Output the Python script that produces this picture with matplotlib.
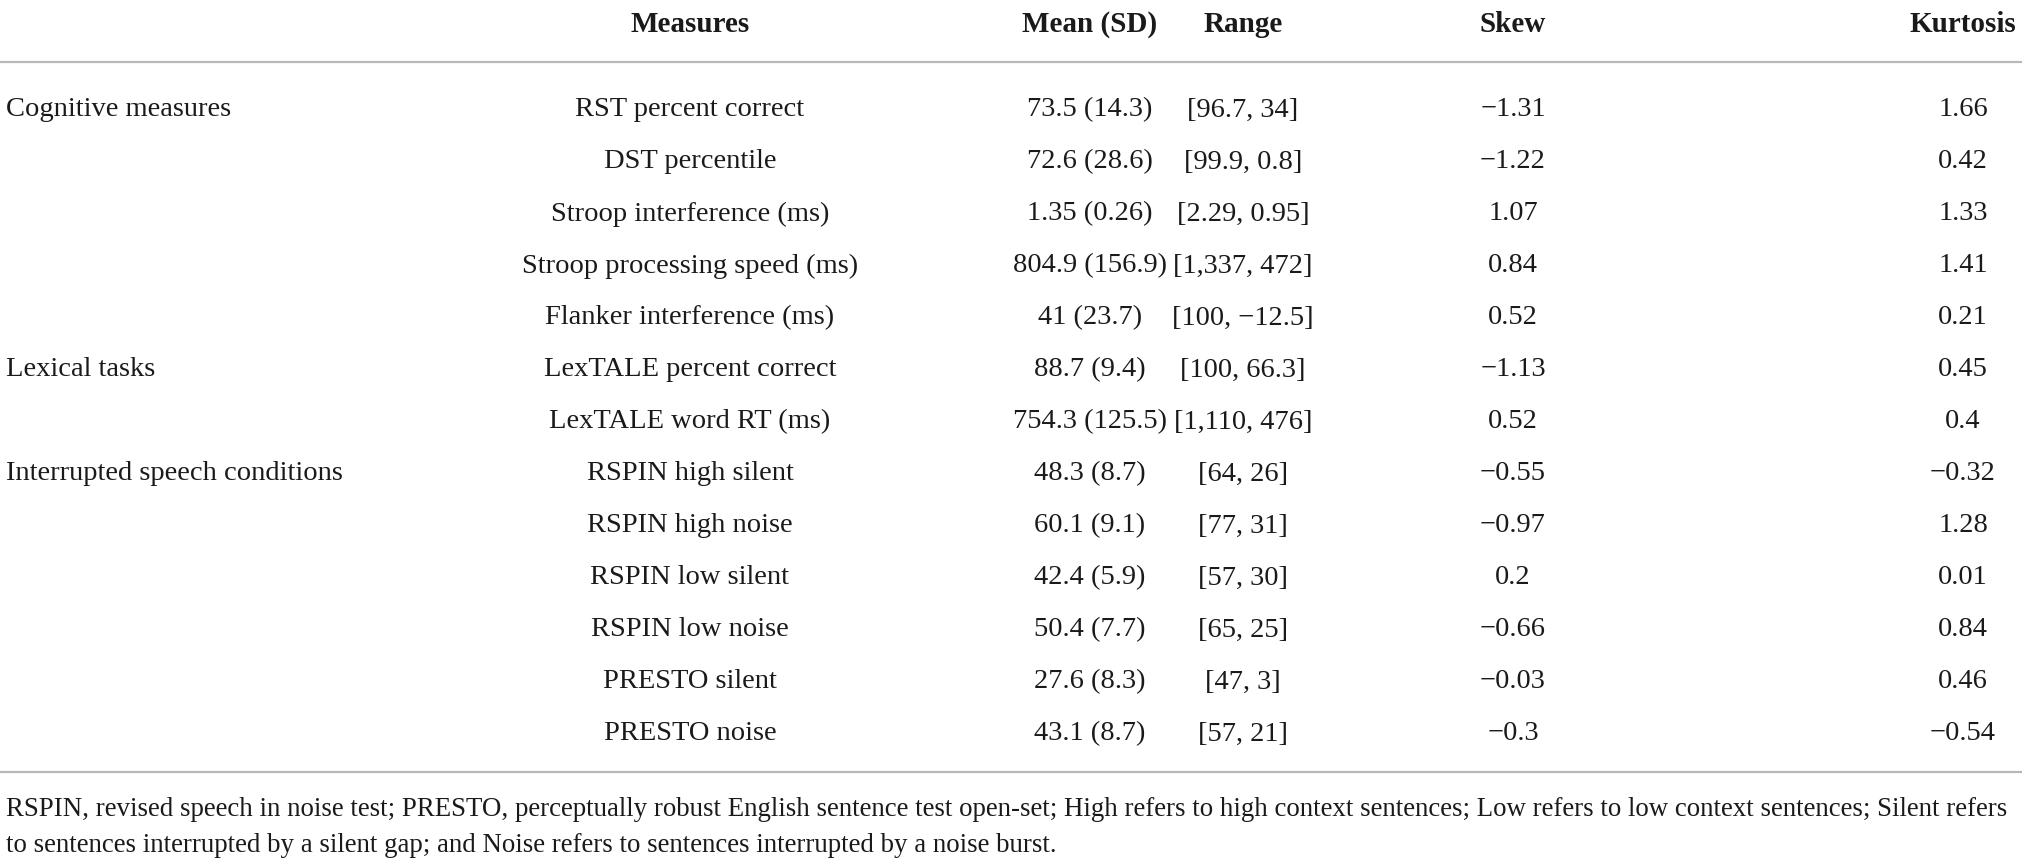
import matplotlib
matplotlib.use("Agg")
import matplotlib.pyplot as plt
from matplotlib.lines import Line2D

headers = ["Measures", "Mean (SD)", "Range", "Skew", "Kurtosis"]
groups = ["Cognitive measures", "", "", "", "", "Lexical tasks", "", "Interrupted speech conditions",
          "", "", "", "", ""]
measures = ["RST percent correct", "DST percentile", "Stroop interference (ms)",
            "Stroop processing speed (ms)", "Flanker interference (ms)",
            "LexTALE percent correct", "LexTALE word RT (ms)", "RSPIN high silent",
            "RSPIN high noise", "RSPIN low silent", "RSPIN low noise", "PRESTO silent",
            "PRESTO noise"]
means = ["73.5 (14.3)", "72.6 (28.6)", "1.35 (0.26)", "804.9 (156.9)", "41 (23.7)",
         "88.7 (9.4)", "754.3 (125.5)", "48.3 (8.7)", "60.1 (9.1)", "42.4 (5.9)",
         "50.4 (7.7)", "27.6 (8.3)", "43.1 (8.7)"]
ranges = ["[96.7, 34]", "[99.9, 0.8]", "[2.29, 0.95]", "[1,337, 472]", "[100, \u221212.5]",
          "[100, 66.3]", "[1,110, 476]", "[64, 26]", "[77, 31]", "[57, 30]", "[65, 25]",
          "[47, 3]", "[57, 21]"]
skews = ["\u22121.31", "\u22121.22", "1.07", "0.84", "0.52", "\u22121.13", "0.52", "\u22120.55",
         "\u22120.97", "0.2", "\u22120.66", "\u22120.03", "\u22120.3"]
kurtosis = ["1.66", "0.42", "1.33", "1.41", "0.21", "0.45", "0.4", "\u22120.32", "1.28",
            "0.01", "0.84", "0.46", "\u22120.54"]
footnote = ["RSPIN, revised speech in noise test; PRESTO, perceptually robust English sentence test open-set; "
            "High refers to high context sentences; Low refers to low context sentences; Silent refers",
            "to sentences interrupted by a silent gap; and Noise refers to sentences interrupted by a noise burst."]

W, H = 2022, 861
fig = plt.figure(figsize=(W / 100, H / 100), dpi=100)
ax = fig.add_axes([0, 0, 1, 1])
ax.set_xlim(0, W)
ax.set_ylim(H, 0)
ax.axis("off")

font = "Liberation Serif"
fs = 20.5
col = "#1a1a1a"
line_col = "#b8b8b8"

col_x = [690, 1090, 1243, 1513, 1963]
header_y = 25
row_y0 = 110
row_dy = 52.0

for x, h in zip(col_x, headers):
    ax.text(x, header_y, h, ha="center", va="center", fontsize=fs + 0.5, fontweight="bold",
            family=font, color=col)

ax.add_line(Line2D([0, W], [62, 62], color=line_col, lw=1.6))

columns = [measures, means, ranges, skews, kurtosis]
for i in range(len(measures)):
    y = row_y0 + i * row_dy
    if groups[i]:
        ax.text(6, y, groups[i], ha="left", va="center", fontsize=fs, family=font, color=col)
    for x, c in zip(col_x, columns):
        ax.text(x, y, c[i], ha="center", va="center", fontsize=fs, family=font, color=col)

ax.add_line(Line2D([0, W], [772, 772], color=line_col, lw=1.6))

fig.canvas.draw()
renderer = fig.canvas.get_renderer()
t1 = ax.text(6, 809, footnote[0], ha="left", va="center", fontsize=fs, family=font, color=col)
bb = t1.get_window_extent(renderer)
target = 2008
fs_foot = fs * target / bb.width
t1.set_fontsize(fs_foot)
ax.text(6, 845, footnote[1], ha="left", va="center", fontsize=fs_foot, family=font, color=col)

fig.savefig("out.png", dpi=100)
